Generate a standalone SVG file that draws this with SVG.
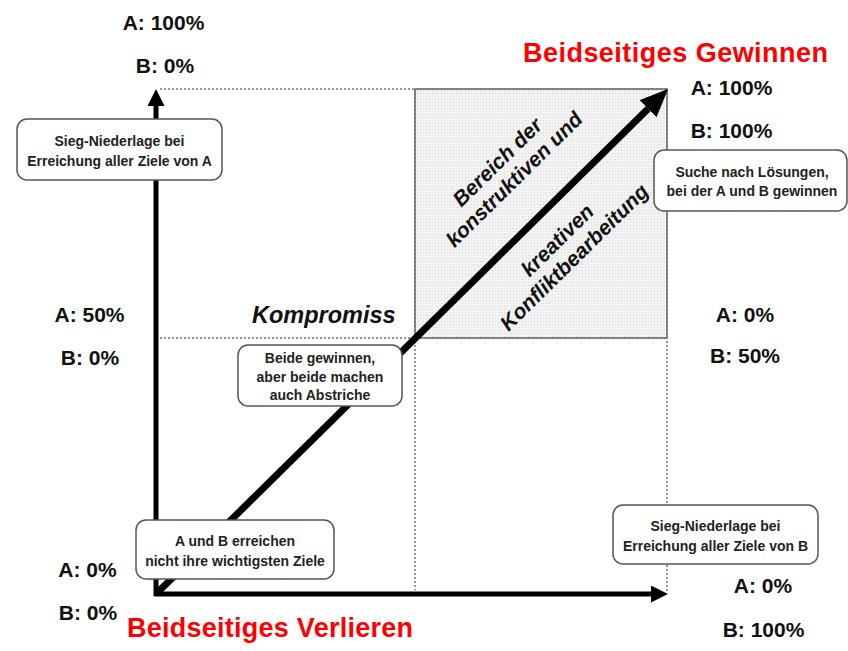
<svg xmlns="http://www.w3.org/2000/svg" width="848" height="651" viewBox="0 0 848 651">
<style>
.lbl{font-family:"Liberation Sans",Arial,sans-serif;font-weight:bold;font-size:21px;fill:#111;text-anchor:middle}
.red{font-family:"Liberation Sans",Arial,sans-serif;font-weight:bold;font-size:27px;fill:#ff0000}
.box rect{fill:#fff;stroke:#555;stroke-width:1.5}
.box text{font-family:"Liberation Sans",Arial,sans-serif;font-weight:bold;font-size:14px;fill:#222;text-anchor:middle}
.rot{font-family:"Liberation Sans",Arial,sans-serif;font-weight:bold;font-style:italic;font-size:21px;fill:#111;text-anchor:middle}
.dot{stroke:#777;stroke-width:1.5;stroke-dasharray:2 2;fill:none}
.axis{stroke:#000;stroke-width:5;fill:none}
</style>
<defs>
<pattern id="dots" width="3" height="3" patternUnits="userSpaceOnUse">
<rect width="3" height="3" fill="#f3f3f3"/>
<rect width="1" height="1" fill="#d8d8d8"/>
</pattern>
<marker id="ah" markerUnits="userSpaceOnUse" markerWidth="17" markerHeight="17" refX="0" refY="8.5" orient="auto">
<path d="M0,0 L17,8.5 L0,17 z" fill="#000"/>
</marker>
<marker id="ahd" markerUnits="userSpaceOnUse" markerWidth="28" markerHeight="24" refX="0" refY="12" orient="auto">
<path d="M0,0 L28,12 L0,24 z" fill="#000"/>
</marker>
</defs>
<rect width="848" height="651" fill="#fff"/>

<g id="zone">
<rect x="415" y="89" width="252" height="249" fill="url(#dots)" stroke="#666" stroke-width="1.5"/>
</g>

<g id="connectors">
<line class="dot" x1="160" y1="89" x2="667" y2="89"/>
<line class="dot" x1="667" y1="89" x2="667" y2="592"/>
<line class="dot" x1="415" y1="89" x2="415" y2="590"/>
<line class="dot" x1="160" y1="338" x2="667" y2="338"/>
<line class="axis" x1="156" y1="596" x2="156" y2="106" marker-end="url(#ah)"/>
<line class="axis" x1="154" y1="594" x2="651" y2="594" marker-end="url(#ah)"/>
<line x1="158" y1="592" x2="648.1" y2="108.7" stroke="#000" stroke-width="7" marker-end="url(#ahd)"/>
</g>

<g id="labels">
<text class="lbl" x="163.5" y="30">A: 100%</text>
<text class="lbl" x="165" y="73">B: 0%</text>
<text class="red" x="523" y="62" textLength="305">Beidseitiges Gewinnen</text>
<text class="lbl" x="731.5" y="95">A: 100%</text>
<text class="lbl" x="731.5" y="138">B: 100%</text>
<text class="lbl" x="89.5" y="322">A: 50%</text>
<text class="lbl" x="90" y="365">B: 0%</text>
<text class="lbl" x="745" y="322">A: 0%</text>
<text class="lbl" x="745" y="363">B: 50%</text>
<text x="252" y="323" font-family="Liberation Sans, Arial, sans-serif" font-weight="bold" font-style="italic" font-size="23.5" fill="#111">Kompromiss</text>
<text class="lbl" x="87.5" y="577">A: 0%</text>
<text class="lbl" x="88" y="620">B: 0%</text>
<text class="red" x="127" y="637" textLength="286">Beidseitiges Verlieren</text>
<text class="lbl" x="763" y="593">A: 0%</text>
<text class="lbl" x="763.5" y="637">B: 100%</text>
</g>

<g id="zone-text">
<g transform="translate(505.5,170.5) rotate(-44.6)">
<text class="rot"><tspan x="0" y="-4.5">Bereich der</tspan><tspan x="0" y="19.5">konstruktiven und</tspan></text>
</g>
<g transform="translate(565.5,248.5) rotate(-44.6)">
<text class="rot"><tspan x="0" y="-4.5">kreativen</tspan><tspan x="0" y="19.5">Konfliktbearbeitung</tspan></text>
</g>
</g>

<g id="box-sieg-a" class="box">
<rect x="17" y="119" width="205" height="61" rx="10"/>
<text x="119.5" y="146">Sieg-Niederlage bei</text>
<text x="119.5" y="166">Erreichung aller Ziele von A</text>
</g>

<g id="box-suche" class="box">
<rect x="654" y="150" width="193" height="61" rx="10"/>
<text x="752" y="177">Suche nach Lösungen,</text>
<text x="752" y="196">bei der A und B gewinnen</text>
</g>

<g id="box-beide" class="box">
<rect x="238" y="345" width="164" height="61" rx="10"/>
<text x="320" y="363">Beide gewinnen,</text>
<text x="320" y="382">aber beide machen</text>
<text x="320" y="400">auch Abstriche</text>
</g>

<g id="box-aundb" class="box">
<rect x="136" y="520" width="198" height="59" rx="10"/>
<text x="235" y="546">A und B erreichen</text>
<text x="235" y="566">nicht ihre wichtigsten Ziele</text>
</g>

<g id="box-sieg-b" class="box">
<rect x="613" y="505" width="205" height="59" rx="10"/>
<text x="715.5" y="531">Sieg-Niederlage bei</text>
<text x="715.5" y="551">Erreichung aller Ziele von B</text>
</g>
</svg>
